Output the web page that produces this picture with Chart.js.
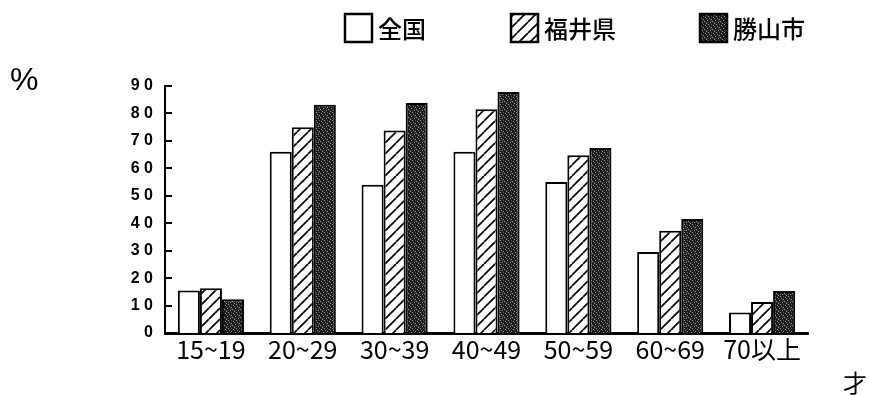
<!DOCTYPE html>
<html><head><meta charset="utf-8">
<script src="https://cdn.jsdelivr.net/npm/chart.js@4"></script>
<style>
html,body{margin:0;padding:0;background:#fff;}
#wrap{position:relative;width:869px;height:395px;overflow:hidden;}
canvas{position:absolute;left:0;top:0;}
.lbl{position:absolute;color:#000;line-height:1;}
</style></head><body>
<div id="wrap"><canvas id="c" width="869" height="395"></canvas>
<div class="lbl" style="left:10px;top:63px;font-size:32px;font-family:'Liberation Sans',sans-serif;">%</div>
<div class="lbl" style="left:843px;top:370px;font-size:24px;font-family:'Noto Sans CJK JP',sans-serif;">才</div>
</div>
<script>
const categories = ['15~19','20~29','30~39','40~49','50~59','60~69','70以上'];
const seriesNames = ['全国','福井県','勝山市'];
const zenkoku   = [15.5, 66.0, 54.0, 66.0, 55.0, 29.5, 7.5];
const fukui     = [16.3, 75.0, 73.8, 81.5, 64.8, 37.3, 11.3];
const katsuyama = [12.3, 83.2, 83.8, 87.8, 67.4, 41.5, 15.3];
const yTickLabels = ['0','1 0','2 0','3 0','4 0','5 0','6 0','7 0','8 0','9 0'];

function hatchPattern(){
  const s = 11, c = document.createElement('canvas'); c.width = s; c.height = s;
  const g = c.getContext('2d');
  g.fillStyle = '#fff'; g.fillRect(0,0,s,s);
  g.strokeStyle = '#000'; g.lineWidth = 1.7;
  [-s,0,s].forEach(dx=>{ g.beginPath(); g.moveTo(dx, s); g.lineTo(dx+s, 0); g.stroke(); });
  return g.createPattern(c,'repeat');
}
function stipplePattern(){
  const s = 8, c = document.createElement('canvas'); c.width = s; c.height = s;
  const g = c.getContext('2d');
  g.fillStyle = '#1c1c1c'; g.fillRect(0,0,s,s);
  g.fillStyle = '#9a9a9a';
  [[1,1],[5,2],[3,4],[6,6],[0,5],[2,7],[7,3],[4,0]].forEach(([x,y])=>g.fillRect(x,y,1,1));
  g.fillStyle = '#5a5a5a';
  [[2,2],[6,4],[1,6],[4,6],[7,0]].forEach(([x,y])=>g.fillRect(x,y,1,1));
  return g.createPattern(c,'repeat');
}

const fills = ['#ffffff', hatchPattern(), stipplePattern()];
const seriesData = [zenkoku, fukui, katsuyama];

const legendBoxX = [345, 511, 700];
const customLegend = {
  id: 'customLegend',
  afterDraw(chart){
    const ctx = chart.ctx;
    ctx.save();
    chart.data.datasets.forEach((ds, i) => {
      const x = legendBoxX[i], y = 14;
      ctx.fillStyle = ds.backgroundColor;
      ctx.fillRect(x, y, 27, 28);
      ctx.strokeStyle = '#000'; ctx.lineWidth = 2.5;
      ctx.strokeRect(x, y, 27, 28);
      ctx.fillStyle = '#000';
      ctx.font = '500 24px "Noto Sans CJK JP", sans-serif';
      ctx.textBaseline = 'middle';
      ctx.textAlign = 'left';
      ctx.fillText(ds.label, x + 33, y + 15);
    });
    ctx.restore();
  }
};
const innerTicks = {
  id: 'innerTicks',
  afterDatasetsDraw(chart){
    const {ctx, chartArea} = chart; const y = chart.scales.y;
    ctx.save(); ctx.strokeStyle = '#000'; ctx.lineWidth = 2;
    y.ticks.forEach(t => {
      const py = Math.round(y.getPixelForValue(t.value));
      ctx.beginPath(); ctx.moveTo(chartArea.left, py); ctx.lineTo(chartArea.left + 7, py); ctx.stroke();
    });
    ctx.restore();
  }
};

new Chart(document.getElementById('c'), {
  type: 'bar',
  data: {
    labels: categories,
    datasets: seriesNames.map((n, i) => ({
      label: n, data: seriesData[i], backgroundColor: fills[i],
      borderColor: '#000', borderWidth: 2,
      categoryPercentage: 0.72, barPercentage: 1.0
    }))
  },
  options: {
    responsive: false, animation: false, devicePixelRatio: 1,
    layout: { padding: { top: 86, right: 61, bottom: 0, left: 0 } },
    plugins: { legend: { display: false }, tooltip: { enabled: false } },
    scales: {
      x: {
        grid: { display: false, drawTicks: false },
        border: { color: '#000', width: 3 },
        ticks: { color: '#000', padding: 1, font: { family: '"Noto Sans CJK JP", sans-serif', size: 25 } },
        afterFit(s){ s.height = 62; }
      },
      y: {
        min: 0, max: 90,
        grid: { display: false, drawTicks: false },
        border: { color: '#000', width: 2 },
        ticks: { stepSize: 10, color: '#000', padding: 12,
          font: { family: '"Liberation Sans", sans-serif', size: 16, weight: 'bold' },
          callback: (v, i) => yTickLabels[i] },
        afterFit(s){ s.width = 165; }
      }
    }
  },
  plugins: [customLegend, innerTicks]
});
</script>
</body></html>
